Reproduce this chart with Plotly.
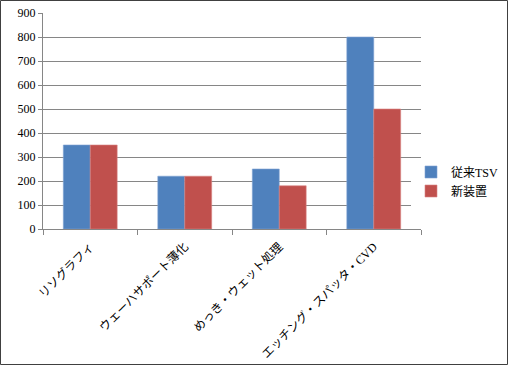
import plotly.graph_objects as go

categories = ["リソグラフィ", "ウェーハサポート薄化", "めっき・ウェット処理", "エッチング・スパッタ・CVD"]
series_names = ["従来TSV", "新装置"]
conventional = [350, 220, 250, 800]
new_device = [350, 220, 180, 500]
y_ticks = [0, 100, 200, 300, 400, 500, 600, 700, 800, 900]

FONT = "Liberation Serif, Noto Sans CJK JP, serif"
W, H = 508, 365
L, R, T, B = 43, 87, 13, 136
pw, ph = W - L - R, H - T - B

fig = go.Figure()
fig.add_trace(go.Bar(x=categories, y=conventional, name=series_names[0], marker_color="#4F81BD",
                     marker_line=dict(color="#7FA3D3", width=0.6)))
fig.add_trace(go.Bar(x=categories, y=new_device, name=series_names[1], marker_color="#C0504D",
                     marker_line=dict(color="#D88583", width=0.6)))

fig.update_layout(
    width=W, height=H,
    margin=dict(l=L, r=R, t=T, b=B, autoexpand=False),
    paper_bgcolor="white", plot_bgcolor="white",
    barmode="group", bargap=0.43, bargroupgap=0,
    font=dict(family=FONT, size=12, color="black"),
    legend=dict(xref="container", yref="container", x=411 / W, y=1 - 181.5 / H,
                xanchor="left", yanchor="middle",
                font=dict(family=FONT, size=12), itemwidth=30, tracegroupgap=0),
    showlegend=True,
)
fig.update_yaxes(range=[0, 900], tickvals=y_ticks, showgrid=True, gridcolor="#868686", gridwidth=1,
                 showline=True, linecolor="#868686", ticks="outside", ticklen=4, tickcolor="#868686",
                 zeroline=False, tickfont=dict(size=12), automargin=False)
fig.update_xaxes(showline=True, linecolor="#868686", ticks="outside", tickson="boundaries",
                 ticklen=5, tickcolor="#868686", tickangle=-45, tickfont=dict(size=12),
                 ticklabelstandoff=5, automargin=False)

fig.add_shape(type="rect", xref="paper", yref="paper",
              x0=-(L - 0.5) / pw, x1=1 + (R - 0.5) / pw,
              y0=-(B - 0.5) / ph, y1=1 + (T - 0.5) / ph,
              line=dict(color="#404040", width=1), layer="below")

fig.write_html("out.html", config={"displayModeBar": False},
               post_script="document.body.style.margin='0';document.body.style.overflow='hidden';")
